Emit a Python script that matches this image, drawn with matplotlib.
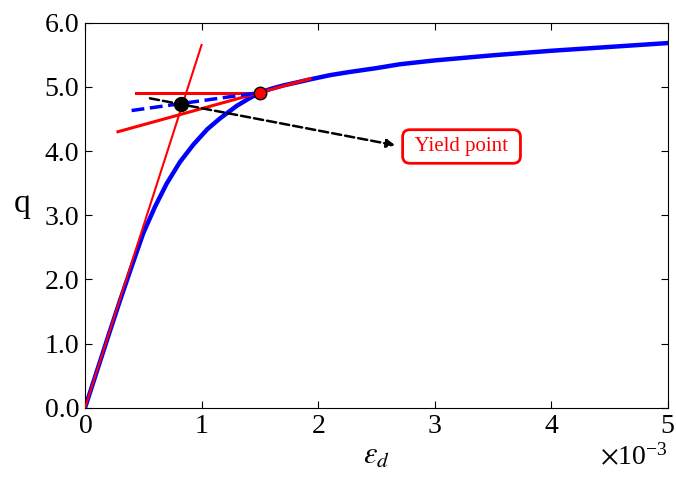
import matplotlib.pyplot as plt
from matplotlib.ticker import ScalarFormatter, FormatStrFormatter

plt.rcParams['font.family'] = 'Liberation Serif'
plt.rcParams['mathtext.fontset'] = 'stix'

# deviatoric strain (x1e-3) and deviatoric stress q
strain = [0.0, 0.1, 0.2, 0.3, 0.4, 0.5, 0.6, 0.7, 0.815, 0.93, 1.05, 1.16,
          1.3, 1.4, 1.5, 1.6, 1.7, 1.8, 1.92, 2.1, 2.27, 2.5, 2.7, 3.0, 3.5,
          4.0, 4.5, 5.0]
q = [0.0, 0.56, 1.12, 1.67, 2.20, 2.72, 3.13, 3.49, 3.83, 4.10, 4.34, 4.51,
     4.70, 4.81, 4.91, 4.97, 5.02, 5.06, 5.11, 5.18, 5.23, 5.29, 5.35, 5.41,
     5.49, 5.56, 5.62, 5.68]

# construction lines (strain x1e-3, q)
elastic_x = [0.0, 1.0]
elastic_q = [0.0, 5.65]
horiz_x = [0.44, 1.5]
horiz_q = [4.91, 4.91]
tangent_x = [0.283, 1.93]
tangent_q = [4.30, 5.125]
bisect_x = [0.40, 1.5]
bisect_q = [4.63, 4.91]

yield_pt = (1.5, 4.91)
intersect_pt = (0.823, 4.73)
arrow_start = (0.557, 4.82)
arrow_end = (2.66, 4.09)
label_pos = (3.23, 4.07)

s = 1e-3

fig = plt.figure(figsize=(6.76, 4.83), dpi=100)
ax = fig.add_axes([0.1257, 0.1553, 0.8623, 0.7981])

ax.plot([v * s for v in strain], q, color='blue', lw=3.2, zorder=2,
        solid_joinstyle='round')
ax.plot([v * s for v in elastic_x], elastic_q, color='red', lw=1.5, zorder=3)
ax.plot([v * s for v in horiz_x], horiz_q, color='red', lw=2.2, zorder=3)
ax.plot([v * s for v in tangent_x], tangent_q, color='red', lw=2.2, zorder=3)
ax.plot([v * s for v in bisect_x], bisect_q, color='blue', lw=2.5, ls='--', zorder=3)

ax.plot(yield_pt[0] * s, yield_pt[1], 'o', color='red', mec='black', mew=1.0, ms=9, zorder=5)
ax.plot(intersect_pt[0] * s, intersect_pt[1], 'o', color='black', ms=10, zorder=5)

ax.annotate('', xy=(arrow_end[0] * s, arrow_end[1]),
            xytext=(arrow_start[0] * s, arrow_start[1]),
            arrowprops=dict(arrowstyle='-|>', color='black', lw=1.8, ls='--',
                            mutation_scale=12, shrinkA=0, shrinkB=0), zorder=4)
ax.text(label_pos[0] * s, label_pos[1], ' Yield point ', color='red', fontsize=15,
        ha='center', va='center',
        bbox=dict(boxstyle='round,pad=0.35', fc='white', ec='red', lw=2))

ax.set_xlim(0, 5e-3)
ax.set_ylim(0, 6)
ax.set_xticks([i * s for i in range(6)])
ax.set_yticks([0, 1, 2, 3, 4, 5, 6])

fmt = ScalarFormatter(useMathText=True)
fmt.set_powerlimits((-2, 2))
ax.xaxis.set_major_formatter(fmt)
ax.yaxis.set_major_formatter(FormatStrFormatter('%.1f'))
ax.xaxis.get_offset_text().set_fontsize(20)

ax.tick_params(direction='in', top=True, right=True, labelsize=20, length=5, pad=4)
ax.set_xlabel(r'$\varepsilon_d$', fontsize=22, labelpad=2)
ax.set_ylabel('q', fontsize=24, rotation=0, va='center', ha='center')
ax.yaxis.set_label_coords(-0.108, 0.53)

fig.savefig('out.png', dpi=100)
